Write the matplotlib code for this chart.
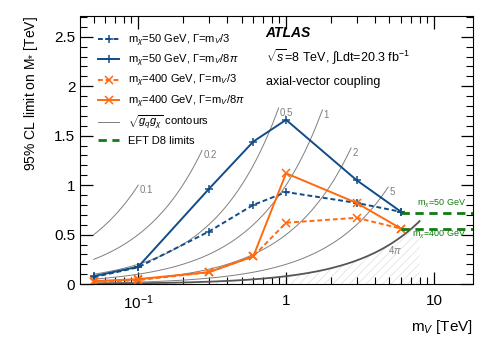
import numpy as np
import matplotlib
matplotlib.use("Agg")
from matplotlib import pyplot as plt
from matplotlib.ticker import FixedLocator, FuncFormatter, MultipleLocator, LogLocator, NullFormatter

plt.rcParams['font.family'] = ['Liberation Sans', 'DejaVu Sans']
plt.rcParams['mathtext.fontset'] = 'custom'
plt.rcParams['mathtext.rm'] = 'Liberation Sans'
plt.rcParams['mathtext.it'] = 'Liberation Sans:italic'
plt.rcParams['hatch.linewidth'] = 0.6

# mediator masses [TeV]
m_v = [0.05, 0.1, 0.3, 0.6, 1.0, 3.0, 6.0]
# 95% CL limits on M* [TeV]
m50_w3 = [0.07, 0.17, 0.53, 0.80, 0.93, 0.82, 0.73]
m50_w8pi = [0.08, 0.175, 0.96, 1.44, 1.66, 1.05, 0.73]
m400_w3 = [0.02, 0.04, 0.12, 0.28, 0.62, 0.67, 0.56]
m400_w8pi = [0.03, 0.05, 0.12, 0.28, 1.12, 0.82, 0.56]

# EFT D8 limits
eft_50 = 0.72
eft_400 = 0.56
eft_start = 6.0

# sqrt(gq*gchi) contours: label, coupling, upper end of mV
contour_labels = ['0.1', '0.2', '0.5', '1', '2', '5']
contour_g = [0.1, 0.2, 0.5, 1.0, 2.0, 5.0]
contour_end = [0.1, 0.27, 0.89, 1.76, 2.75, 4.9]
g_4pi = 4 * np.pi
end_4pi = 8.0

blue = '#114c86'
orange = '#ff6a0f'
green = '#117c11'
grey = '#7f7f7f'

fig = plt.figure(figsize=(4.98, 3.39), dpi=100)
ax = fig.add_axes([0.161, 0.162, 0.789, 0.791])

# contours
for lab, g, end in zip(contour_labels, contour_g, contour_end):
    xs = np.logspace(np.log10(0.05), np.log10(end), 100)
    ax.plot(xs, xs / g, color=grey, lw=0.7)
    ax.text(end * 1.02, end / g - 0.05, lab, color=grey, fontsize=7, ha='left', va='center')
xs = np.logspace(np.log10(0.05), np.log10(end_4pi), 200)
ax.fill_between(xs, 0, xs / g_4pi, facecolor='none', edgecolor='#e4e4e4', hatch='////', lw=0)
ax.plot(xs, xs / g_4pi, color='#555555', lw=1.3)
ax.text(5.5, 0.34, r'4$\pi$', color=grey, fontsize=7, ha='center', va='center')

ax.plot(m_v, m50_w3, color=blue, ls=(0, (2.5, 1.5)), lw=1.4, marker='+', ms=6, mew=1.1)
ax.plot(m_v, m50_w8pi, color=blue, ls='-', lw=1.4, marker='+', ms=6, mew=1.1)
ax.plot(m_v, m400_w3, color=orange, ls=(0, (2.5, 1.5)), lw=1.4, marker='x', ms=5.5, mew=1.1)
ax.plot(m_v, m400_w8pi, color=orange, ls='-', lw=1.4, marker='x', ms=5.5, mew=1.1)

ax.plot([eft_start, 20], [eft_50, eft_50], color=green, ls=(0, (3, 2)), lw=2)
ax.plot([eft_start, 20], [eft_400, eft_400], color=green, ls=(0, (3, 2)), lw=2)
ax.text(7.7, 0.81, r'm$_{\chi}$=50 GeV', color=green, fontsize=6.5, ha='left', va='center')
ax.text(7.1, 0.50, r'm$_{\chi}$=400 GeV', color=green, fontsize=6.5, ha='left', va='center')

# legend entries
h1, = ax.plot([], [], color=blue, ls=(0, (2.5, 1.5)), lw=1.4, marker='+', ms=6, mew=1.1)
h2, = ax.plot([], [], color=blue, ls='-', lw=1.4, marker='+', ms=6, mew=1.1)
h3, = ax.plot([], [], color=orange, ls=(0, (2.5, 1.5)), lw=1.4, marker='x', ms=5.5, mew=1.1)
h4, = ax.plot([], [], color=orange, ls='-', lw=1.4, marker='x', ms=5.5, mew=1.1)
h5, = ax.plot([], [], color=grey, lw=0.7)
h6, = ax.plot([], [], color=green, ls=(0, (3, 2)), lw=2)
labels = [r'm$_{\chi}$=50 GeV, $\Gamma$=m$_{V}$/3',
          r'm$_{\chi}$=50 GeV, $\Gamma$=m$_{V}$/8$\pi$',
          r'm$_{\chi}$=400 GeV, $\Gamma$=m$_{V}$/3',
          r'm$_{\chi}$=400 GeV, $\Gamma$=m$_{V}$/8$\pi$',
          r'$\sqrt{g_{q}g_{\chi}}$ contours',
          'EFT D8 limits']
ax.legend([h1, h2, h3, h4, h5, h6], labels, loc='upper left', bbox_to_anchor=(0.035, 0.955),
          frameon=False, fontsize=8, handlelength=1.9, labelspacing=0.35, borderaxespad=0,
          handletextpad=0.8)

ax.text(0.472, 0.935, 'ATLAS', transform=ax.transAxes, fontsize=10, fontweight='bold',
        fontstyle='italic', ha='left', va='center')
ax.text(0.472, 0.845, r'$\sqrt{s}$=8 TeV, $\int$Ldt=20.3 fb$^{-1}$', transform=ax.transAxes,
        fontsize=9, ha='left', va='center')
ax.text(0.472, 0.755, 'axial-vector coupling', transform=ax.transAxes,
        fontsize=9, ha='left', va='center')

ax.set_xscale('log')
ax.set_xlim(0.0405, 18.4)
ax.set_ylim(0, 2.71)
ax.xaxis.set_major_locator(FixedLocator([0.1, 1, 10]))
ax.xaxis.set_major_formatter(FuncFormatter(lambda v, p: {0.1: r'$10^{-1}$', 1: '1', 10: '10'}.get(round(v, 3), '')))
ax.xaxis.set_minor_locator(LogLocator(base=10, subs=np.arange(2, 10), numticks=20))
ax.xaxis.set_minor_formatter(NullFormatter())
ax.yaxis.set_major_locator(FixedLocator([0, 0.5, 1, 1.5, 2, 2.5]))
ax.yaxis.set_major_formatter(FuncFormatter(lambda v, p: '0' if v == 0 else ('%g' % v)))
ax.yaxis.set_minor_locator(MultipleLocator(0.1))
ax.tick_params(which='both', direction='in', top=True, right=True, labelsize=11)
ax.tick_params(which='major', length=9, width=0.9)
ax.tick_params(which='minor', length=5, width=0.8)
ax.tick_params(axis='x', pad=7)

ax.set_xlabel(r'm$_{V}$ [TeV]', fontsize=11, loc='right')
ax.set_ylabel(r'95% CL limit on M$_{*}$ [TeV]', fontsize=10, loc='top', labelpad=10)

fig.savefig('out.png', dpi=100)
